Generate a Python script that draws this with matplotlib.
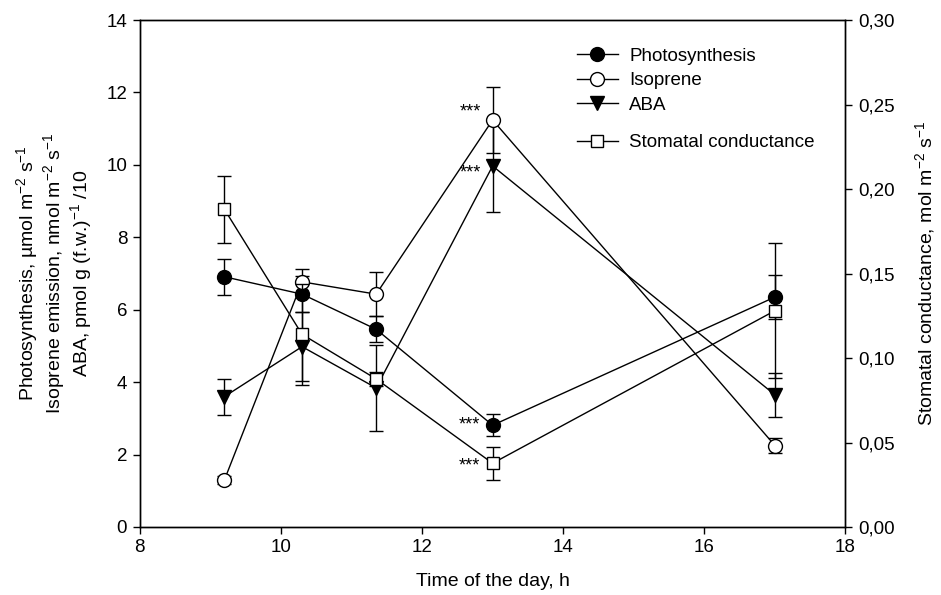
import numpy as np
import matplotlib
matplotlib.use("Agg")
import matplotlib.pyplot as plt
from matplotlib.ticker import FuncFormatter, MultipleLocator
from matplotlib.lines import Line2D

plt.rcParams['font.family'] = ['Liberation Sans', 'DejaVu Sans']
plt.rcParams['mathtext.fontset'] = 'custom'
plt.rcParams['mathtext.rm'] = 'Liberation Sans'
plt.rcParams['mathtext.default'] = 'regular'

# time of sampling, h
hours = [9.2, 10.3, 11.35, 13.0, 17.0]

photo = [6.91, 6.43, 5.46, 2.81, 6.35]
photo_err = [0.5, 0.5, 0.36, 0.3, 0.6]

isoprene = [1.3, 6.77, 6.43, 11.24, 2.25]
isoprene_err = [0.1, 0.36, 0.6, 0.9, 0.22]

aba = [3.6, 4.98, 3.84, 9.97, 3.65]
aba_err = [0.5, 0.95, 1.18, 1.27, 0.6]

# stomatal conductance, mol m-2 s-1 (right axis)
gs = [0.188, 0.114, 0.0876, 0.0377, 0.128]
gs_err = [0.02, 0.03, 0.004, 0.0099, 0.04]

fig = plt.figure(figsize=(9.41, 5.95), dpi=100)
ax = fig.add_axes([0.1485, 0.1143, 0.750, 0.852])
ax2 = ax.twinx()

common = dict(color='black', lw=1.0, capsize=5, elinewidth=1.0, capthick=1.0,
              markeredgecolor='black', markeredgewidth=1.0)

ax.errorbar(hours, photo, yerr=photo_err, marker='o', ms=10,
            markerfacecolor='black', **common)
ax.errorbar(hours, isoprene, yerr=isoprene_err, marker='o', ms=10,
            markerfacecolor='white', **common)
ax.errorbar(hours, aba, yerr=aba_err, marker='v', ms=10,
            markerfacecolor='black', **common)
ax2.errorbar(hours, gs, yerr=gs_err, marker='s', ms=8,
             markerfacecolor='white', **common)

ax.set_xlim(8, 18)
ax.set_ylim(0, 14)
ax2.set_ylim(0, 0.30)
ax.xaxis.set_major_locator(MultipleLocator(2))
ax.yaxis.set_major_locator(MultipleLocator(2))
ax2.yaxis.set_major_locator(MultipleLocator(0.05))
ax2.yaxis.set_major_formatter(FuncFormatter(lambda v, p: f"{v:.2f}".replace('.', ',')))

for a in (ax, ax2):
    a.tick_params(direction='out', length=5, width=1, labelsize=13.5, colors='black', pad=4)
    for s in a.spines.values():
        s.set_linewidth(1.0)

ax.set_xlabel('Time of the day, h', fontsize=14, labelpad=12)
ax.set_ylabel('Photosynthesis, µmol m$^{-2}$ s$^{-1}$\n'
              'Isoprene emission, nmol m$^{-2}$ s$^{-1}$\n'
              'ABA, pmol g (f.w.)$^{-1}$ /10',
              fontsize=14, linespacing=1.05, labelpad=9)
ax2.set_ylabel('Stomatal conductance, mol m$^{-2}$ s$^{-1}$', fontsize=14, labelpad=13)

# significance marks at 13 h
stars = dict(fontsize=13, ha='right', va='center', textcoords='offset points')
ax.annotate('***', (13.0, isoprene[3]), xytext=(-8, 6), **stars)
ax.annotate('***', (13.0, aba[3]), xytext=(-8, -5), **stars)
ax.annotate('***', (13.0, photo[3]), xytext=(-9, 0), **stars)
ax2.annotate('***', (13.0, gs[3]), xytext=(-9, -2), **stars)

h_photo = Line2D([], [], color='black', lw=1, marker='o', ms=10, markerfacecolor='black')
h_iso = Line2D([], [], color='black', lw=1, marker='o', ms=10, markerfacecolor='white')
h_aba = Line2D([], [], color='black', lw=1, marker='v', ms=10, markerfacecolor='black')
h_gs = Line2D([], [], color='black', lw=1, marker='s', ms=8, markerfacecolor='white')

leg_kw = dict(loc='upper left', frameon=False, fontsize=13.5, handlelength=2.2,
              handletextpad=0.6, labelspacing=0.38, borderaxespad=0, borderpad=0)
leg1 = ax2.legend([h_photo, h_iso, h_aba], ['Photosynthesis', 'Isoprene', 'ABA'],
                  bbox_to_anchor=(0.619, 0.945), **leg_kw)
ax2.add_artist(leg1)
ax2.legend([h_gs], ['Stomatal conductance'],
           bbox_to_anchor=(0.619, 0.775), **leg_kw)

fig.savefig('out.png', dpi=100)
